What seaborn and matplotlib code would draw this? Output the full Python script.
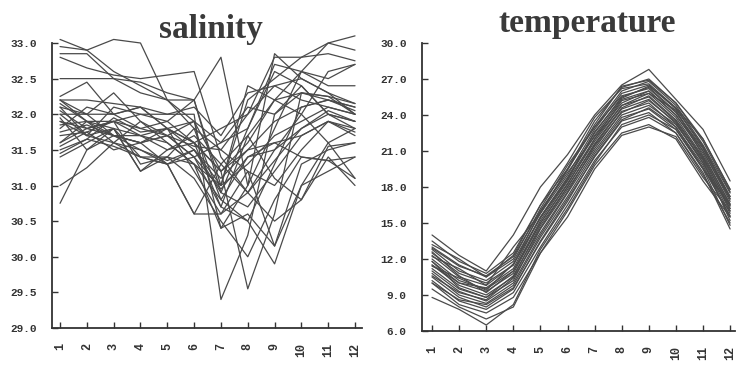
import numpy as np
import pandas as pd
import seaborn as sns
import matplotlib.pyplot as plt


"""
1. Data: monthly curves per station (read off the picture)
"""
months = list(range(1, 13))
month_labels = [str(m) for m in months]

salinity = [
    [33.05, 32.9, 32.6, 32.4, 32.2, 31.9, 31.2, 31.6, 32.2, 32.6, 33.0, 33.1],
    [32.95, 32.9, 33.05, 33.0, 32.2, 31.8, 31.5, 32.0, 32.8, 32.8, 32.85, 32.75],
    [32.85, 32.85, 32.5, 32.3, 32.2, 32.2, 31.0, 32.2, 32.5, 32.8, 33.0, 32.9],
    [32.8, 32.65, 32.55, 32.5, 32.55, 32.6, 31.4, 30.9, 31.5, 32.0, 32.6, 32.7],
    [32.5, 32.5, 32.5, 32.45, 32.3, 32.2, 32.8, 31.0, 31.8, 32.6, 32.4, 32.4],
    [32.25, 32.45, 32.0, 32.1, 31.8, 31.9, 30.4, 31.0, 32.85, 32.5, 32.3, 32.15],
    [32.2, 32.2, 32.15, 32.1, 32.0, 32.0, 29.4, 30.3, 32.0, 32.3, 32.2, 32.1],
    [32.15, 31.9, 31.8, 31.7, 31.5, 31.6, 31.2, 29.55, 30.6, 32.3, 32.25, 32.0],
    [32.1, 32.0, 32.3, 31.9, 31.6, 31.3, 30.8, 30.5, 29.9, 31.0, 31.6, 31.8],
    [32.05, 31.8, 31.7, 31.5, 31.3, 30.6, 30.6, 31.2, 30.15, 31.3, 31.5, 31.6],
    [32.0, 32.0, 32.0, 31.8, 31.9, 31.6, 30.7, 31.7, 31.1, 30.8, 31.4, 31.0],
    [31.95, 31.5, 31.8, 31.2, 31.4, 31.1, 30.5, 30.0, 30.8, 31.4, 31.35, 31.4],
    [31.9, 31.7, 31.6, 31.4, 31.3, 31.5, 31.0, 32.4, 32.2, 32.0, 31.6, 31.1],
    [31.85, 31.9, 31.6, 31.9, 31.7, 31.4, 31.6, 31.8, 32.6, 32.4, 32.0, 31.9],
    [31.8, 32.1, 32.0, 32.1, 31.8, 31.6, 31.8, 32.0, 32.4, 32.2, 32.1, 32.0],
    [31.7, 31.75, 31.5, 31.6, 31.8, 31.5, 30.9, 30.7, 31.2, 31.7, 31.9, 31.8],
    [31.6, 31.8, 31.9, 31.7, 31.6, 31.3, 31.0, 31.3, 31.7, 31.9, 32.1, 32.0],
    [31.55, 31.75, 31.9, 31.3, 31.4, 31.8, 30.8, 31.4, 31.5, 31.8, 32.05, 31.9],
    [31.5, 31.65, 31.95, 31.75, 31.8, 31.6, 31.2, 31.5, 31.9, 32.1, 32.2, 32.1],
    [31.45, 31.65, 31.55, 31.4, 31.3, 31.4, 30.95, 31.4, 31.6, 31.7, 31.9, 31.75],
    [31.4, 31.6, 31.8, 31.2, 31.5, 31.7, 31.3, 31.7, 32.2, 32.3, 32.25, 32.15],
    [31.0, 31.25, 31.6, 31.5, 31.35, 31.5, 31.1, 31.5, 31.6, 31.4, 31.35, 31.1],
    [30.75, 31.5, 31.7, 31.7, 31.8, 31.2, 30.6, 30.9, 31.35, 31.8, 32.0, 31.9],
    [32.2, 32.0, 31.7, 31.6, 31.7, 31.4, 30.7, 30.5, 31.3, 32.1, 32.2, 32.05],
    [32.1, 31.7, 31.8, 31.4, 31.4, 31.3, 30.4, 30.6, 30.15, 31.0, 31.2, 31.4],
    [31.9, 31.8, 31.9, 32.0, 32.0, 32.1, 31.7, 32.3, 32.4, 32.5, 32.3, 32.0],
    [32.0, 31.7, 32.1, 32.0, 31.9, 32.2, 30.9, 31.8, 32.7, 32.6, 32.5, 32.7],
    [31.75, 31.85, 31.7, 31.6, 31.7, 31.55, 31.5, 31.2, 31.0, 31.5, 31.9, 31.7],
    [32.2, 31.9, 31.9, 31.8, 31.7, 31.9, 31.6, 32.1, 32.0, 32.4, 32.0, 31.8],
    [31.6, 31.9, 31.7, 31.6, 31.3, 30.6, 31.3, 30.9, 30.5, 30.8, 31.55, 31.6],
]

temperature = [
    [14.0, 12.3, 11.0, 14.0, 18.0, 20.7, 24.0, 26.5, 27.8, 25.3, 22.8, 18.5],
    [13.5, 11.8, 10.8, 12.5, 16.5, 19.5, 23.5, 26.3, 27.0, 25.0, 22.0, 17.8],
    [13.0, 11.5, 10.5, 12.0, 16.2, 19.8, 23.0, 26.0, 26.8, 24.8, 21.5, 17.5],
    [12.8, 11.0, 10.2, 11.8, 15.8, 19.0, 22.8, 25.8, 26.5, 24.5, 21.3, 17.0],
    [12.5, 10.8, 10.0, 11.5, 15.5, 18.8, 22.5, 25.5, 26.3, 24.3, 21.0, 16.8],
    [12.3, 10.5, 9.8, 11.5, 16.0, 19.2, 22.2, 25.0, 26.0, 24.0, 20.8, 16.5],
    [12.0, 10.2, 9.5, 11.0, 15.2, 18.5, 22.0, 25.2, 25.8, 23.8, 20.5, 16.2],
    [11.8, 10.0, 9.3, 10.8, 15.0, 18.3, 21.8, 24.8, 25.5, 23.5, 20.3, 16.0],
    [11.5, 9.8, 9.0, 10.5, 14.8, 18.0, 21.5, 24.5, 25.3, 23.3, 20.0, 15.8],
    [11.2, 9.5, 8.8, 10.2, 14.5, 17.8, 21.2, 24.3, 25.0, 23.0, 19.8, 15.5],
    [11.0, 9.3, 8.5, 10.0, 14.0, 17.5, 21.0, 24.0, 24.8, 23.2, 20.2, 15.2],
    [10.8, 9.0, 8.3, 9.8, 13.8, 17.2, 20.8, 23.8, 24.5, 22.8, 19.5, 14.8],
    [10.5, 8.8, 8.0, 9.5, 13.5, 17.0, 20.5, 23.5, 24.2, 22.5, 19.2, 14.5],
    [10.2, 8.5, 7.8, 9.2, 13.0, 16.5, 20.2, 23.0, 23.8, 22.5, 19.0, 15.0],
    [10.0, 8.2, 7.5, 8.8, 12.5, 16.0, 19.8, 22.5, 23.2, 22.0, 18.5, 15.5],
    [9.5, 8.0, 7.0, 8.0, 12.5, 15.5, 19.5, 22.3, 23.0, 22.2, 18.8, 16.0],
    [8.8, 7.8, 6.5, 8.2, 12.8, 16.2, 20.0, 23.2, 24.0, 22.8, 19.5, 16.5],
    [13.2, 12.0, 10.5, 12.3, 16.5, 20.0, 23.8, 26.2, 26.6, 24.6, 22.0, 17.8],
    [12.2, 11.2, 9.8, 13.0, 15.8, 19.5, 23.0, 25.6, 26.2, 24.2, 21.2, 17.2],
    [11.5, 10.0, 9.6, 11.2, 15.5, 18.7, 22.3, 25.3, 26.0, 24.0, 21.0, 17.0],
    [12.6, 10.6, 9.2, 11.0, 15.0, 18.2, 22.0, 24.8, 25.8, 24.4, 20.6, 16.6],
    [11.8, 9.6, 8.8, 10.6, 14.6, 18.0, 21.6, 24.6, 25.6, 23.6, 20.4, 16.4],
    [10.6, 9.2, 8.6, 10.4, 14.2, 17.6, 21.4, 24.2, 25.2, 23.4, 20.0, 16.2],
    [11.4, 10.4, 9.4, 11.6, 15.4, 18.6, 22.6, 25.4, 26.4, 24.6, 21.4, 17.2],
    [12.9, 11.4, 10.6, 12.2, 16.0, 19.4, 23.2, 26.4, 26.9, 25.0, 21.8, 17.6],
    [10.0, 8.6, 8.2, 9.6, 13.4, 16.8, 20.6, 23.6, 24.6, 23.0, 19.6, 15.6],
]

sal_ticks = [29.0, 29.5, 30.0, 30.5, 31.0, 31.5, 32.0, 32.5, 33.0]
tmp_ticks = [6.0, 9.0, 12.0, 15.0, 18.0, 21.0, 24.0, 27.0, 30.0]


def to_long(series):
    rows = []
    for i, vals in enumerate(series):
        for m, v in zip(months, vals):
            rows.append({'station': i, 'month': m, 'value': v})
    return pd.DataFrame(rows)


"""
2. Figure
"""
sns.set_style('white')
line_col = '#4a4a4a'
W, H = 737, 365
fig = plt.figure(figsize=(W / 100, H / 100), dpi=100)


def draw_panel(ax, series, ticks, xlim, title, title_xy):
    sns.lineplot(data=to_long(series), x='month', y='value', units='station',
                 estimator=None, color=line_col, linewidth=0.9, ax=ax)
    for ln in ax.lines:
        ln.set_clip_on(False)
    ax.set_xlim(*xlim)
    ax.set_ylim(ticks[0], ticks[-1])
    ax.set_xticks(months)
    ax.set_xticklabels(month_labels, rotation=90, family='Liberation Mono',
                       fontsize=8.5, color='#333333', fontweight='bold')
    ax.set_yticks(ticks)
    ax.set_yticklabels([f'{t:.1f}' for t in ticks], family='Liberation Mono',
                       fontsize=8, color='#333333', fontweight='bold')
    ax.tick_params(axis='x', bottom=True, direction='in', length=4, width=1,
                   pad=11, color='#333333')
    ax.tick_params(axis='y', left=True, direction='in', length=4, width=1,
                   pad=11, color='#333333')
    ax.set_xlabel('')
    ax.set_ylabel('')
    sns.despine(ax=ax)
    for s in ['left', 'bottom']:
        ax.spines[s].set_color('#333333')
        ax.spines[s].set_linewidth(1.3)
    fig.text(title_xy[0] / W, 1 - title_xy[1] / H, title, ha='center',
             va='baseline', family='Liberation Serif', fontweight='bold',
             fontsize=24, color='#3a3a3a')


ax1 = fig.add_axes([52 / W, (H - 328) / H, 310 / W, 285 / H])
draw_panel(ax1, salinity, sal_ticks, (0.7, 12.26), 'salinity', (211, 38))

ax2 = fig.add_axes([422 / W, (H - 331) / H, 313 / W, 288 / H])
draw_panel(ax2, temperature, tmp_ticks, (0.63, 12.18), 'temperature', (587, 32))

plt.savefig('out.png', dpi=100)
